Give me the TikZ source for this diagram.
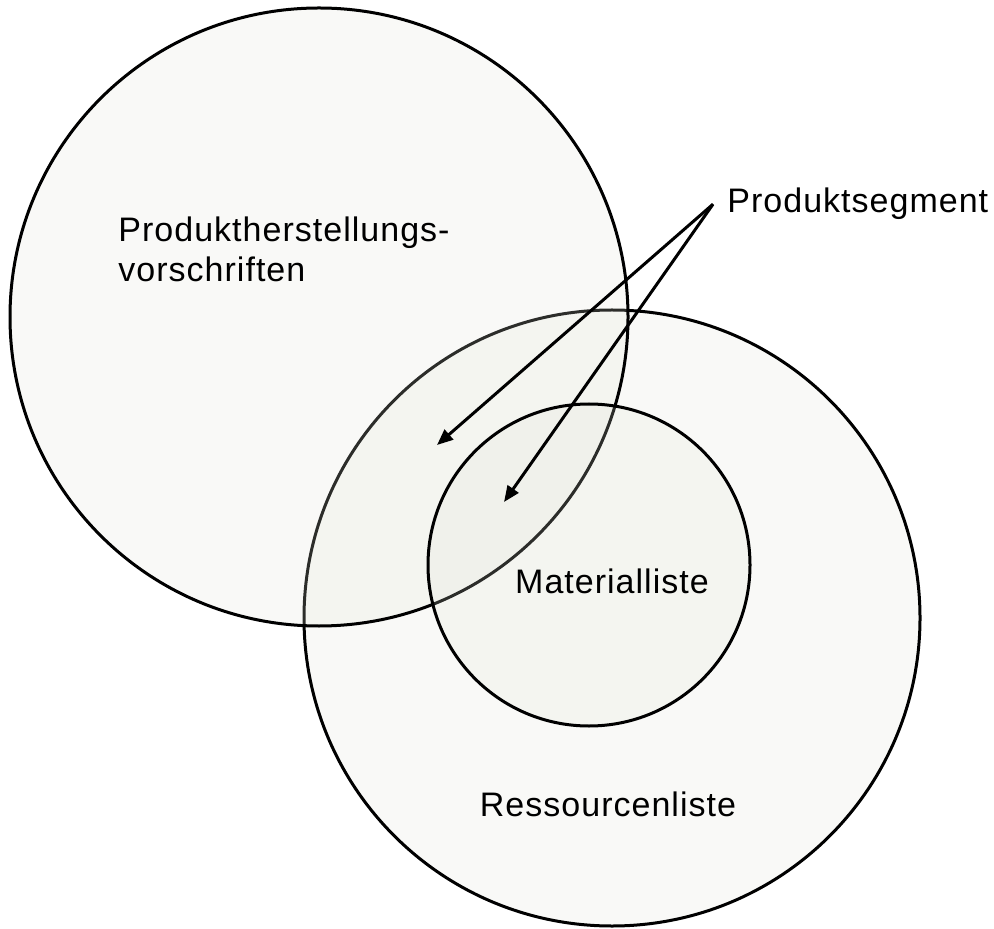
\documentclass[tikz,border=0pt]{standalone}
\usepackage{fontspec}
\setmainfont{Liberation Sans}[LetterSpace=3]
\usetikzlibrary{arrows.meta}
\definecolor{Pale}{HTML}{E0E2D6}

\begin{document}
\begin{tikzpicture}[x=0.5pt,y=-0.5pt,font=\fontsize{17}{20}\selectfont,>={Triangle[length=8pt,width=6.5pt]},
  ring/.style={circle,draw,line width=1.5pt,fill=Pale,fill opacity=.2,text opacity=1,inner sep=0pt},
  arr/.style={line width=1.5pt,->}]
        \useasboundingbox (0,0) rectangle (994,929);
        \node[ring,minimum size=308pt] (res) at (612,618) {};
        \node[ring,minimum size=309pt] (prod) at (319,317) {};
        \node[ring,minimum size=161pt] (mat) at (589,565) {};
        \node[anchor=north west,align=left,inner sep=0pt] (prodtxt) at (118,216) {Produktherstellungs-\\vorschriften};
        \node[anchor=base] (mattxt) at (612,593) {Materialliste};
        \node[anchor=base] (restxt) at (608,816) {Ressourcenliste};
        \node[anchor=base west,inner sep=7pt] (segm) at (713,213) {Produktsegment};
        \coordinate (tipA) at (437,445);\coordinate (tipB) at (504,502);
        \draw[arr] (segm.west)--(tipA);\draw[arr] (segm.west)--(tipB);
      \end{tikzpicture}
\end{document}
